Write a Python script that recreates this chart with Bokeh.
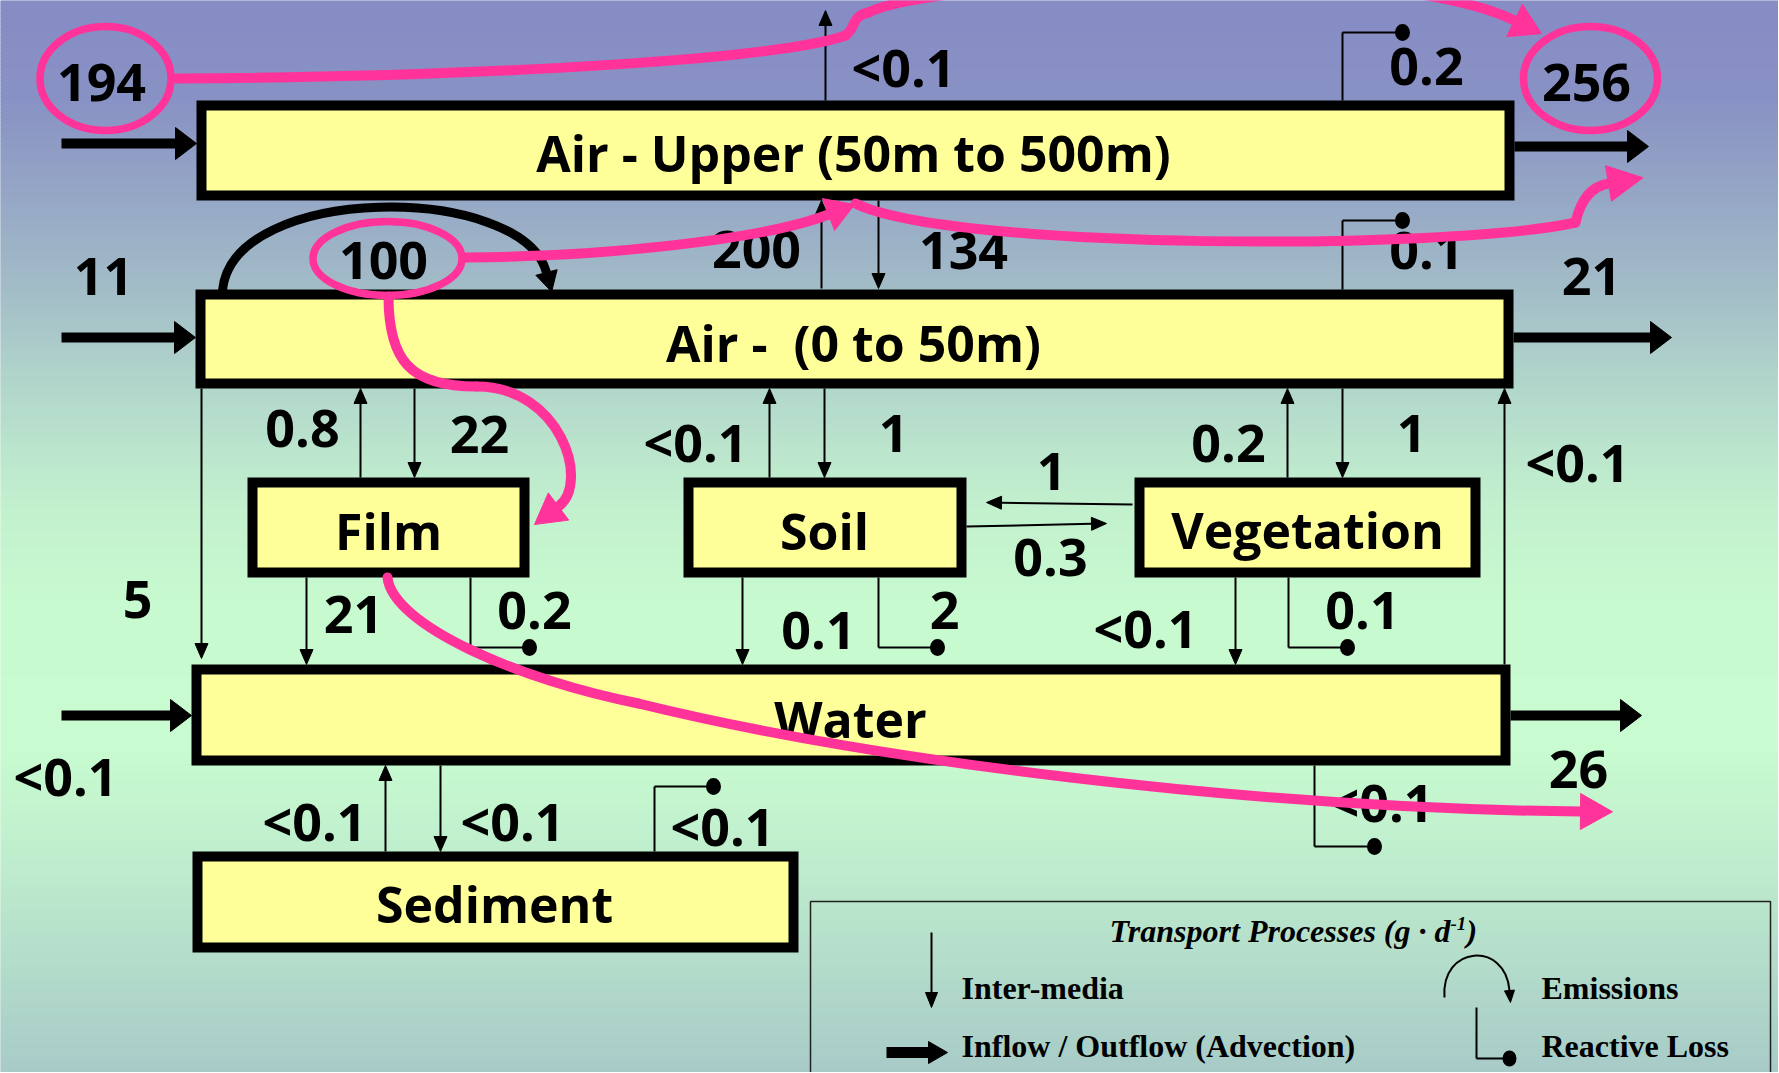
import numpy as np
from bokeh.plotting import figure
from bokeh.core.properties import value
from bokeh.embed import file_html
from bokeh.resources import INLINE

# ---------------- data ----------------
compartments = ["Air - Upper (50m to 500m)", "Air - \u00a0(0 to 50m)", "Film", "Soil",
                "Vegetation", "Water", "Sediment"]

# inter-media transport values (g/d)
inter_labels = ["<0.1", "200", "134", "5", "0.8", "22", "<0.1", "1", "0.2", "1",
                "<0.1", "1", "0.3", "21", "0.1", "<0.1", "<0.1", "<0.1"]
# reactive loss values (g/d)
loss_labels = ["0.2", "0.1", "0.2", "2", "0.1", "<0.1", "<0.1"]
# advection in / out (g/d)
adv_labels = ["194", "11", "<0.1", "256", "21", "26"]
# emissions (g/d)
emission_labels = ["100"]

legend_title = "Transport Processes (g \u00b7 d"
legend_items = ["Inter-media", "Inflow / Outflow (Advection)", "Emissions", "Reactive Loss"]

# ---------------- layout ----------------
box_left = [196, 195, 247, 683, 1134, 191, 192]
box_right = [1514, 1513, 529, 966, 1480, 1510, 798]
box_top = [100, 289, 477, 477, 477, 664, 851]
box_bottom = [200, 388, 577, 577, 577, 765, 952]
title_x = [853, 853, 388, 824, 1307, 850, 494]
title_y = [152, 342, 530, 530, 529, 718, 903]

inter_x0 = [825, 821, 878, 201, 360, 414, 769, 824, 1287, 1342, 1504, 1132, 966, 306, 742, 1235, 385, 440]
inter_y0 = [100, 288, 200, 388, 477, 388, 477, 388, 477, 388, 664, 504, 526, 577, 577, 577, 851, 765]
inter_x1 = [825, 821, 878, 201, 360, 414, 769, 824, 1287, 1342, 1504, 986, 1106, 306, 742, 1235, 385, 440]
inter_y1 = [10, 200, 288, 658, 388, 477, 388, 477, 388, 477, 388, 502, 523, 664, 664, 664, 765, 851]
inter_lab_x = [903, 756, 963, 137, 302, 479, 695, 893, 1228, 1411, 1577, 1051, 1050, 353, 818, 1145, 314, 512]
inter_lab_y = [66, 249, 250, 599, 428, 434, 441, 433, 443, 433, 461, 471, 557, 614, 630, 627, 820, 820]

loss_x = [1342, 1342, 470, 878, 1288, 1314, 654]
loss_y0 = [100, 289, 577, 577, 577, 765, 851]
loss_y1 = [32, 220, 647, 647, 647, 846, 786]
loss_dot_x = [1402, 1402, 529, 937, 1347, 1374, 713]
loss_lab_x = [1426, 1426, 534, 944, 1362, 1381, 722]
loss_lab_y = [66, 250, 610, 610, 610, 801, 825]

adv_x0 = [61, 61, 61, 1514, 1513, 1510]
adv_x1 = [196, 195, 191, 1648, 1671, 1641]
adv_y = [143, 337, 715, 146, 337, 715]
adv_lab_x = [101, 103, 65, 1586, 1591, 1578]
adv_lab_y = [82, 276, 775, 82, 276, 769]

emis_lab_x = [383]
emis_lab_y = [260]

# highlighted values: ellipse centre / size
hl_x = [105, 1590, 387]
hl_y = [78, 78, 258]
hl_w = [131, 134, 149]
hl_h = [104, 104, 74]

# pink pathway curves: list of paths, each a list of cubic segments (p0, c0, c1, p1)
pink_paths = [
    [((176, 78), (500, 76), (780, 58), (845, 35)),
     ((845, 35), (856, 27), (850, 16), (868, 12)),
     ((868, 12), (930, -20), (1380, -45), (1514, 20))],
    [((466, 257), (600, 256), (760, 240), (828, 214))],
    [((855, 203), (950, 250), (1450, 250), (1575, 222)),
     ((1575, 222), (1580, 200), (1590, 186), (1608, 183))],
    [((388, 296), (388, 360), (410, 386), (476, 386)),
     ((476, 386), (560, 386), (590, 482), (558, 506))],
    [((387, 577), (392, 625), (520, 680), (638, 703)),
     ((638, 703), (870, 760), (1250, 808), (1580, 811))],
]
pink_head_len = [30, 28, 35, 30, 32]
pink_head_w = [18, 17, 18, 17, 18]

# background gradient stops
grad_y = [0, 100, 200, 300, 400, 500, 600, 750, 870, 1073]
grad_r = [134, 137, 150, 165, 180, 194, 200, 200, 190, 168]
grad_g = [140, 146, 168, 192, 218, 240, 250, 252, 236, 203]
grad_b = [196, 196, 198, 200, 204, 206, 208, 208, 205, 200]

PINK = "#ff3399"
BOX_FILL = "#ffff99"
NUM_SIZE = 52
TITLE_SIZE = 50

W, H = 1778, 1072
p = figure(width=W, height=H, x_range=(0, W), y_range=(H, 0),
           output_backend="svg", toolbar_location=None,
           x_axis_type=None, y_axis_type=None, min_border=0)
p.outline_line_color = None
p.background_fill_color = None
p.border_fill_color = None

# gradient background
ys = np.arange(0, 1080, 4)
cols = []
for y in ys:
    r = np.interp(y + 2, grad_y, grad_r)
    g = np.interp(y + 2, grad_y, grad_g)
    b = np.interp(y + 2, grad_y, grad_b)
    cols.append("#%02x%02x%02x" % (int(r), int(g), int(b)))
p.quad(left=0, right=1790, top=ys, bottom=ys + 4, fill_color=cols, line_color=cols, line_width=1)


def tri_tip(tx, ty, dx, dy, L, Wd):
    n = np.hypot(dx, dy)
    ux, uy = dx / n, dy / n
    bx, by = tx - ux * L, ty - uy * L
    px, py = -uy, ux
    return [tx, bx + px * Wd, bx - px * Wd], [ty, by + py * Wd, by - py * Wd], bx, by


def tri_base(bx, by, dx, dy, L, Wd):
    n = np.hypot(dx, dy)
    ux, uy = dx / n, dy / n
    return tri_tip(bx + ux * L, by + uy * L, dx, dy, L, Wd)


def label(xs, ys, texts, size, align="center", font="Open Sans", style="bold"):
    # y is the visual centre of the text line
    p.text(x=xs, y=ys, text=texts, text_font=value(font),
           text_font_style=style, text_font_size=f"{size}px", text_align=align,
           text_baseline="alphabetic", text_color="black")


# compartment boxes
p.quad(left=[v + 5 for v in box_left], right=[v - 5 for v in box_right],
       top=[v + 5 for v in box_top], bottom=[v - 5 for v in box_bottom],
       fill_color=BOX_FILL, line_color="black", line_width=10, line_join="miter")
label(title_x, title_y, compartments, TITLE_SIZE)

# inter-media thin arrows
hx, hy, sx0, sy0, sx1, sy1 = [], [], [], [], [], []
for x0, y0, x1, y1 in zip(inter_x0, inter_y0, inter_x1, inter_y1):
    tx, ty, bx, by = tri_tip(x1, y1, x1 - x0, y1 - y0, 15, 6.5)
    hx.append(tx); hy.append(ty)
    sx0.append(x0); sy0.append(y0); sx1.append(bx); sy1.append(by)
p.segment(sx0, sy0, sx1, sy1, line_color="black", line_width=2)
p.patches(hx, hy, fill_color="black", line_color="black", line_width=1)
label(inter_lab_x, inter_lab_y, inter_labels, NUM_SIZE)

# reactive losses
p.segment(loss_x, loss_y0, loss_x, loss_y1, line_color="black", line_width=2)
p.segment(loss_x, loss_y1, loss_dot_x, loss_y1, line_color="black", line_width=2)
p.ellipse(loss_dot_x, loss_y1, width=15, height=17, fill_color="black", line_color=None)
label(loss_lab_x, loss_lab_y, loss_labels, NUM_SIZE)

# advection thick arrows
hx, hy, sx0, sx1 = [], [], [], []
for x0, x1, y in zip(adv_x0, adv_x1, adv_y):
    tx, ty, bx, by = tri_tip(x1, y, 1, 0, 21, 16)
    hx.append(tx); hy.append(ty); sx0.append(x0); sx1.append(bx + 1)
p.segment(sx0, adv_y, sx1, adv_y, line_color="black", line_width=10, line_cap="butt")
p.patches(hx, hy, fill_color="black", line_color="black", line_width=1)
label(adv_lab_x, adv_lab_y, adv_labels, NUM_SIZE)

# emissions arc (black)
p.bezier(x0=[222], y0=[290], x1=[546], y1=[272], cx0=[232], cy0=[182], cx1=[522], cy1=[182],
         line_color="black", line_width=9)
ex, ey, _, _ = tri_base(546, 272, 546 - 522, 272 - 182, 20, 11)
p.patch(ex, ey, fill_color="black", line_color="black")
label(emis_lab_x, emis_lab_y, emission_labels, NUM_SIZE)

# pink pathway
for path, L, Wd in zip(pink_paths, pink_head_len, pink_head_w):
    p.bezier(x0=[s[0][0] for s in path], y0=[s[0][1] for s in path],
             x1=[s[3][0] for s in path], y1=[s[3][1] for s in path],
             cx0=[s[1][0] for s in path], cy0=[s[1][1] for s in path],
             cx1=[s[2][0] for s in path], cy1=[s[2][1] for s in path],
             line_color=PINK, line_width=10, line_cap="round")
    last = path[-1]
    tx, ty, _, _ = tri_base(last[3][0], last[3][1], last[3][0] - last[2][0],
                            last[3][1] - last[2][1], L, Wd)
    p.patch(tx, ty, fill_color=PINK, line_color=PINK)
p.ellipse(hl_x, hl_y, width=hl_w, height=hl_h, fill_color=None, line_color=PINK, line_width=7.5)

# legend
p.quad(left=[810], right=[1770], top=[901], bottom=[1100], fill_color=None,
       line_color="#222222", line_width=1.5)
serif = value("Liberation Serif")
p.text(x=[1450], y=[930], text=[legend_title], text_font=serif,
       text_font_style="bold italic", text_font_size="32px", text_align="right",
       text_baseline="alphabetic")
p.text(x=[1450], y=[923], text=["-1"], text_font=serif,
       text_font_style="bold italic", text_font_size="19px", text_align="left",
       text_baseline="alphabetic")
p.text(x=[1466], y=[930], text=[")"], text_font=serif,
       text_font_style="bold italic", text_font_size="32px", text_align="left",
       text_baseline="alphabetic")
p.text(x=[961, 961, 1541, 1541], y=[987, 1045, 987, 1045], text=legend_items,
       text_font=serif, text_font_style="bold", text_font_size="32px",
       text_align="left", text_baseline="alphabetic")
# legend icons
tx, ty, bx, by = tri_tip(931, 1007, 0, 1, 15, 6)
p.segment([931], [932], [bx], [by], line_color="black", line_width=2)
p.patch(tx, ty, fill_color="black", line_color="black")
tx, ty, bx, by = tri_tip(947, 1052, 1, 0, 19, 11)
p.segment([886], [1052], [bx + 1], [1052], line_color="black", line_width=11, line_cap="butt")
p.patch(tx, ty, fill_color="black", line_color="black")
p.bezier(x0=[1444], y0=[997], x1=[1509], y1=[990], cx0=[1440], cy0=[945], cx1=[1505], cy1=[940],
         line_color="black", line_width=2)
tx, ty, _, _ = tri_base(1509, 990, 1509 - 1505, 990 - 940, 12, 5)
p.patch(tx, ty, fill_color="black", line_color="black")
p.segment([1476, 1476], [1007, 1058], [1476, 1509], [1058, 1058], line_color="black", line_width=2)
p.ellipse([1509], [1058], width=14, height=16, fill_color="black", line_color=None)

open("out.html", "w").write(file_html(p, INLINE))
